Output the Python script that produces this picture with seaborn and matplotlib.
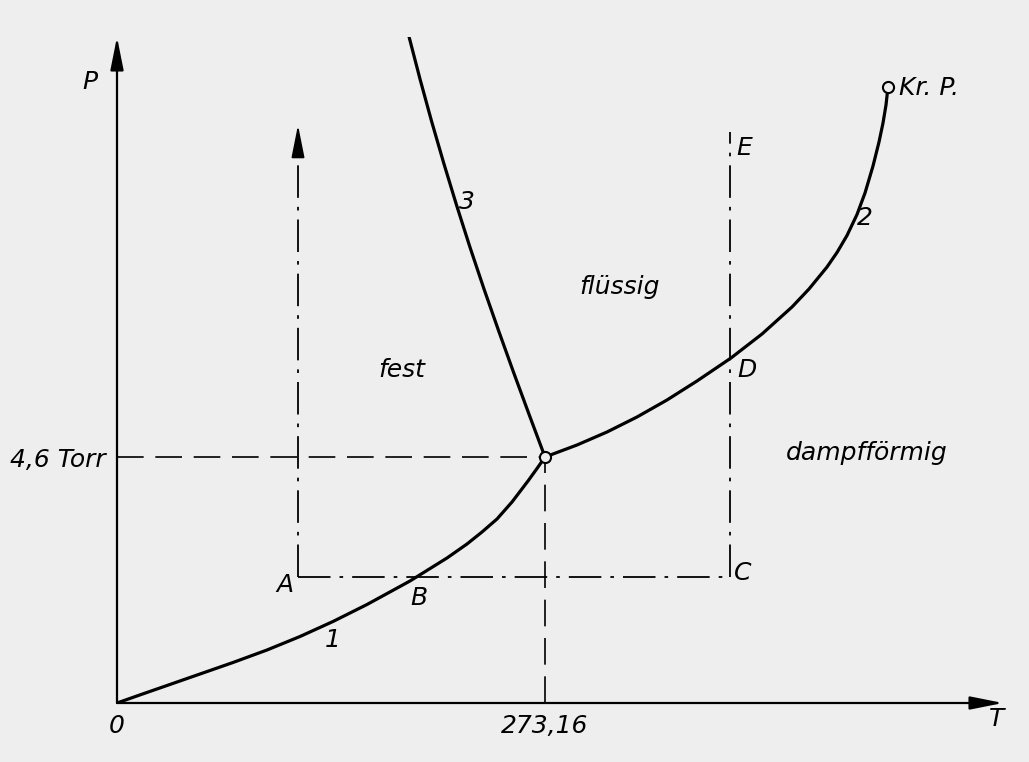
import numpy as np
import pandas as pd
import matplotlib
matplotlib.use('Agg')
import matplotlib.pyplot as plt
import seaborn as sns

# schematic phase diagram (units: arbitrary, origin = 0)
# curve 1: sublimation line
t1 = [0, 25, 50, 83, 116, 150, 183, 216, 250, 293, 330, 350, 365, 380, 395, 411, 420, 428]
p1 = [0, 8.8, 17.5, 29, 40.5, 53, 66.5, 81.5, 98.5, 122, 145, 159, 171, 184, 201, 222, 234.5, 246]
# curve 2: vapour pressure line up to critical point
t2 = [428, 460, 490, 520, 550, 580, 614, 645, 675, 692, 710, 720, 730, 740, 748, 756, 762, 766, 769, 771]
p2 = [246, 258, 271, 286, 303, 322, 345, 369, 396, 414, 436, 450.5, 467.5, 488.5, 510, 537, 561, 580, 598, 616]
# curve 3: melting line
t3 = [428, 412.3, 396.8, 381.7, 367.0, 352.9, 339.5, 326.7, 314.5, 303.0, 292.1]
p3 = [246, 288, 330, 372, 414, 456, 498, 540, 582, 624, 666]

triple = (428, 246)
crit = (771, 616)
t_A, t_C = 181, 613
p_AC = 126
p_A_top = 578
p_E = 571

xtick_pos = [0, 428]
xtick_lab = ['0', '273,16']
ytick_pos = [246]
ytick_lab = ['4,6 Torr']

bg = '#eeeeee'
sns.set_theme(style='white', rc={'axes.facecolor': bg, 'figure.facecolor': bg})
plt.rcParams['font.family'] = ['DejaVu Sans']
plt.rcParams['font.style'] = 'italic'

fig = plt.figure(figsize=(10.29, 7.62), dpi=100)
ax = fig.add_axes([117 / 1029, 59 / 762, 886 / 1029, 666 / 762])
ax.set_xlim(0, 886)
ax.set_ylim(0, 666)
for s in ax.spines.values():
    s.set_visible(False)

fs = 18
arrow = dict(arrowstyle='-|>,head_length=1.0,head_width=0.2', mutation_scale=20,
             lw=1.6, color='black', shrinkA=0, shrinkB=0)
# axes with arrows
ax.annotate('', xy=(1, 0), xytext=(0, 0), xycoords='axes fraction', arrowprops=arrow)
ax.annotate('', xy=(0, 1), xytext=(0, 0), xycoords='axes fraction', arrowprops=arrow)

# guide lines
ax.plot([0, triple[0]], [triple[1], triple[1]], color='black', lw=1.2, dashes=(16, 7))
ax.plot([triple[0], triple[0]], [0, triple[1]], color='black', lw=1.2, dashes=(16, 7))

dd = (18, 5, 2, 5)
ax.plot([t_A, t_C], [p_AC, p_AC], color='black', lw=1.3, dashes=dd)
ax.plot([t_C, t_C], [p_AC, p_E], color='black', lw=1.3, dashes=dd)
ax.plot([t_A, t_A], [p_AC, p_A_top - 20], color='black', lw=1.3, dashes=dd)
ax.annotate('', xy=(t_A, p_A_top), xytext=(t_A, p_A_top - 30),
            arrowprops=dict(arrowstyle='-|>,head_length=1.0,head_width=0.2', mutation_scale=20,
                            lw=1.3, color='black', shrinkA=0, shrinkB=0))

# phase boundaries
for t, p in [(t1, p1), (t2, p2), (t3, p3)]:
    d = pd.DataFrame({'T': t, 'P': p})
    sns.lineplot(data=d, x='T', y='P', sort=False, color='black', lw=2.3, ax=ax)

ax.plot([triple[0], crit[0]], [triple[1], crit[1]], 'o', ms=8, mfc=bg, mec='black', mew=1.5, zorder=5)

ax.set_xticks(xtick_pos, xtick_lab, fontsize=fs, color='black')
ax.set_yticks(ytick_pos, ytick_lab, fontsize=fs, color='black')
ax.tick_params(length=0, pad=8, labelcolor='black')
ax.set_xlabel('')
ax.set_ylabel('')

txt = dict(fontsize=fs, color='black', ha='center', va='center')
ax.text(-27, 621, 'P', **txt)
ax.text(880, -16, 'T', **txt)
ax.text(285, 333, 'fest', **txt)
ax.text(503, 416, 'flüssig', **txt)
ax.text(750, 250, 'dampfförmig', **txt)
ax.text(782, 615, 'Kr. P.', fontsize=fs, ha='left', va='center', color='black')
ax.text(216, 63, '1', **txt)
ax.text(748, 485, '2', **txt)
ax.text(350, 501, '3', **txt)
ax.text(168, 118, 'A', **txt)
ax.text(302, 105, 'B', **txt)
ax.text(626, 130, 'C', **txt)
ax.text(630, 333, 'D', **txt)
ax.text(627, 555, 'E', **txt)

fig.savefig('out.png', dpi=100, facecolor=bg)
